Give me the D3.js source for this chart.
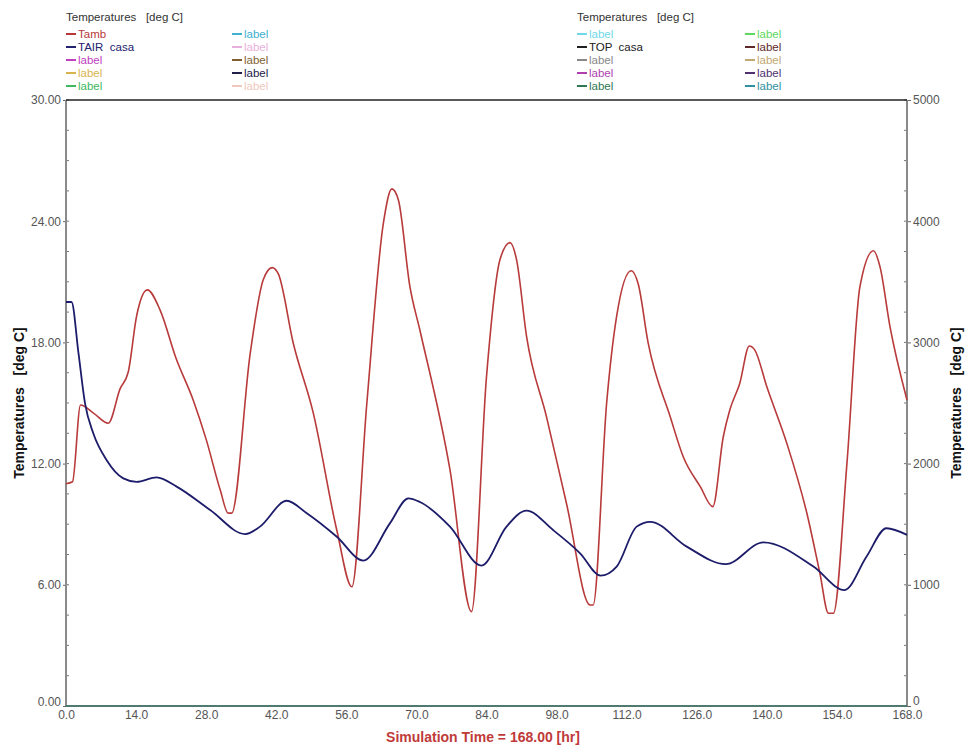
<!DOCTYPE html>
<html><head><meta charset="utf-8">
<script src="https://cdn.jsdelivr.net/npm/d3@7/dist/d3.min.js"></script>
<style>body{margin:0;background:#fff;}svg{display:block;font-family:"Liberation Sans",Arial,sans-serif;}</style>
</head><body>
<svg id="c" width="968" height="746"></svg>
<script>
// ---- data ----
const xTicks = [0, 14, 28, 42, 56, 70, 84, 98, 112, 126, 140, 154, 168];
const yLeftTicks = [0, 6, 12, 18, 24, 30];
const yRightTicks = [0, 1000, 2000, 3000, 4000, 5000];

const tambTime = [0, 1.3, 2.9, 5.5, 8.45, 10.8, 12.45, 14.1, 16.25, 18.8, 22, 25.4, 28, 30.8, 32.4, 33.1, 36.8, 39.4, 41.2, 42.4, 45.4, 49.4, 54.1, 57.1, 60.1, 63.4, 65.1, 66.4, 68.7, 70.7, 76.7, 81.0, 84.0, 86.7, 88.7, 90.0, 92.0, 96.0, 100.0, 104.7, 105.3, 108.0, 110.0, 112.9, 114.3, 116.3, 120.7, 123.3, 126.7, 129.2, 131.3, 132.6, 134.6, 136.5, 137.6, 140.0, 144.0, 148.0, 150.6, 152.3, 153.3, 156.0, 158.6, 161.3, 162.6, 164.6, 168];
const tambValue = [11.0, 11.1, 14.9, 14.5, 14.0, 15.7, 16.55, 19.3, 20.6, 19.6, 17.2, 15.15, 13.2, 10.7, 9.55, 9.55, 17.46, 21.1, 21.7, 21.4, 17.96, 14.5, 8.7, 5.9, 15.0, 23.9, 25.6, 25.05, 20.76, 18.6, 11.7, 4.67, 16.3, 22.1, 22.94, 22.1, 18.3, 14.3, 10.0, 5.0, 5.0, 15.0, 19.3, 21.55, 20.9, 17.96, 14.32, 12.34, 10.86, 9.87, 13.33, 14.65, 15.98, 17.82, 17.62, 15.8, 13.0, 9.54, 6.57, 4.59, 4.59, 12.0, 20.76, 22.54, 21.75, 18.78, 15.15];

const tairTime = [0, 1.1, 2.5, 3.8, 5.45, 8.1, 11.45, 14.1, 18.1, 22.1, 28.8, 35.8, 38.75, 44.1, 48.1, 54.1, 59.4, 64.7, 68.4, 70.7, 76.7, 83.0, 88.0, 92.0, 97.3, 102.7, 106.8, 110.0, 114.0, 116.7, 124.0, 131.8, 139.3, 149.3, 155.5, 159.9, 163.9, 168];
const tairValue = [20.0, 20.0, 17.46, 14.98, 13.5, 12.18, 11.27, 11.1, 11.32, 10.86, 9.7, 8.51, 8.88, 10.16, 9.54, 8.38, 7.2, 9.04, 10.28, 10.1, 8.88, 6.95, 8.88, 9.67, 8.71, 7.56, 6.45, 6.9, 8.88, 9.12, 7.89, 7.02, 8.1, 6.9, 5.74, 7.39, 8.8, 8.47];

const zeroTime = [0, 168];
const zeroValue = [0, 0];

const legendLeftCol1 = [["Tamb", "#b8383a"], ["TAIR  casa", "#22226e"], ["label", "#c040c0"], ["label", "#d8b450"], ["label", "#40b860"]];
const legendLeftCol2 = [["label", "#40b0d0"], ["label", "#e8b0dc"], ["label", "#806030"], ["label", "#202048"], ["label", "#f0c8c0"]];
const legendRightCol1 = [["label", "#70d8e8"], ["TOP  casa", "#202020"], ["label", "#888888"], ["label", "#b040b0"], ["label", "#307850"]];
const legendRightCol2 = [["label", "#60d860"], ["label", "#602828"], ["label", "#c0a870"], ["label", "#503070"], ["label", "#3090a0"]];

// ---- layout ----
const L = 66, R = 907, T = 100, B = 706;
const svg = d3.select("#c");
const x = d3.scaleLinear().domain([0, 168]).range([L, R]);
const yL = d3.scaleLinear().domain([0, 30]).range([B, T]);
const yR = d3.scaleLinear().domain([0, 5000]).range([B, T]);

// minor ticks
const minorL = d3.range(0, 30.01, 1.5);
svg.append("g").selectAll("line").data(minorL).join("line")
  .attr("x1", L).attr("x2", L + 3).attr("y1", d => yL(d)).attr("y2", d => yL(d))
  .attr("stroke", "#777").attr("stroke-width", 1);
const minorR = d3.range(0, 5001, 250);
svg.append("g").selectAll("line").data(minorR).join("line")
  .attr("x1", R - 3).attr("x2", R).attr("y1", d => yR(d)).attr("y2", d => yR(d))
  .attr("stroke", "#777").attr("stroke-width", 1);

// axes
const axL = svg.append("g").attr("transform", `translate(${L},0)`)
  .call(d3.axisLeft(yL).tickValues(yLeftTicks).tickFormat(d3.format(".2f")).tickSize(3).tickPadding(2));
const axR = svg.append("g").attr("transform", `translate(${R},0)`)
  .call(d3.axisRight(yR).tickValues(yRightTicks).tickFormat(d3.format("d")).tickSize(4).tickPadding(2));
const axB = svg.append("g").attr("transform", `translate(0,${B})`)
  .call(d3.axisBottom(x).tickValues(xTicks).tickFormat(d3.format(".1f")).tickSize(0).tickPadding(6));
[axL, axR, axB].forEach(a => {
  a.select(".domain").remove();
  a.selectAll("text").attr("font-size", 12).attr("fill", "#555").attr("font-family", "Liberation Sans, Arial, sans-serif");
  a.selectAll(".tick line").attr("stroke", "#666");
});
axL.selectAll(".tick").filter(d => d === 0).select("text").attr("dy", "-0.05em");
axR.selectAll(".tick").filter(d => d === 0).select("text").attr("dy", "-0.1em");
axB.selectAll("text").attr("dy", "0.6em");

// frame
svg.append("line").attr("x1", L).attr("x2", L).attr("y1", T).attr("y2", B).attr("stroke", "#8a8a8a").attr("stroke-width", 2);
svg.append("line").attr("x1", R).attr("x2", R).attr("y1", T).attr("y2", B).attr("stroke", "#8a8a8a").attr("stroke-width", 2);
svg.append("line").attr("x1", L).attr("x2", R).attr("y1", T).attr("y2", T).attr("stroke", "#222").attr("stroke-width", 1.5);

// series
const line = d3.line().curve(d3.curveMonotoneX);
const pts = (tt, vv) => tt.map((t, i) => [x(t), yL(vv[i])]);
svg.append("path").attr("d", line(pts(zeroTime, zeroValue))).attr("fill", "none").attr("stroke", "#4e7a72").attr("stroke-width", 2.2);
svg.append("path").attr("d", line(pts(tambTime, tambValue))).attr("fill", "none").attr("stroke", "#b83a3a").attr("stroke-width", 1.6);
svg.append("path").attr("d", line(pts(tairTime, tairValue))).attr("fill", "none").attr("stroke", "#1c1c6a").attr("stroke-width", 1.8);

// axis titles
svg.append("text").attr("transform", `translate(24,${(T + B) / 2}) rotate(-90)`)
  .attr("text-anchor", "middle").attr("font-size", 14).attr("font-weight", "bold").attr("fill", "#111")
  .attr("xml:space", "preserve").text("Temperatures   [deg C]");
svg.append("text").attr("transform", `translate(961,${(T + B) / 2}) rotate(-90)`)
  .attr("text-anchor", "middle").attr("font-size", 14).attr("font-weight", "bold").attr("fill", "#111")
  .attr("xml:space", "preserve").text("Temperatures   [deg C]");
svg.append("text").attr("x", 483).attr("y", 742).attr("text-anchor", "middle")
  .attr("font-size", 14).attr("font-weight", "bold").attr("fill", "#c03a3a").text("Simulation Time = 168.00 [hr]");

// legends
function legend(x0, title, col1, col2, x2) {
  const g = svg.append("g");
  g.append("text").attr("x", x0).attr("y", 21).attr("font-size", 11.5).attr("fill", "#333")
    .attr("xml:space", "preserve").text(title);
  [[col1, x0], [col2, x2]].forEach(([col, cx]) => {
    col.forEach((e, i) => {
      const yy = 34 + i * 13;
      g.append("line").attr("x1", cx).attr("x2", cx + 10).attr("y1", yy).attr("y2", yy).attr("stroke", e[1]).attr("stroke-width", 2);
      g.append("text").attr("x", cx + 12).attr("y", yy + 4).attr("font-size", 11.5).attr("fill", e[1])
        .attr("xml:space", "preserve").text(e[0]);
    });
  });
}
legend(66, "Temperatures   [deg C]", legendLeftCol1, legendLeftCol2, 232);
legend(577, "Temperatures   [deg C]", legendRightCol1, legendRightCol2, 745);
</script>
</body></html>
